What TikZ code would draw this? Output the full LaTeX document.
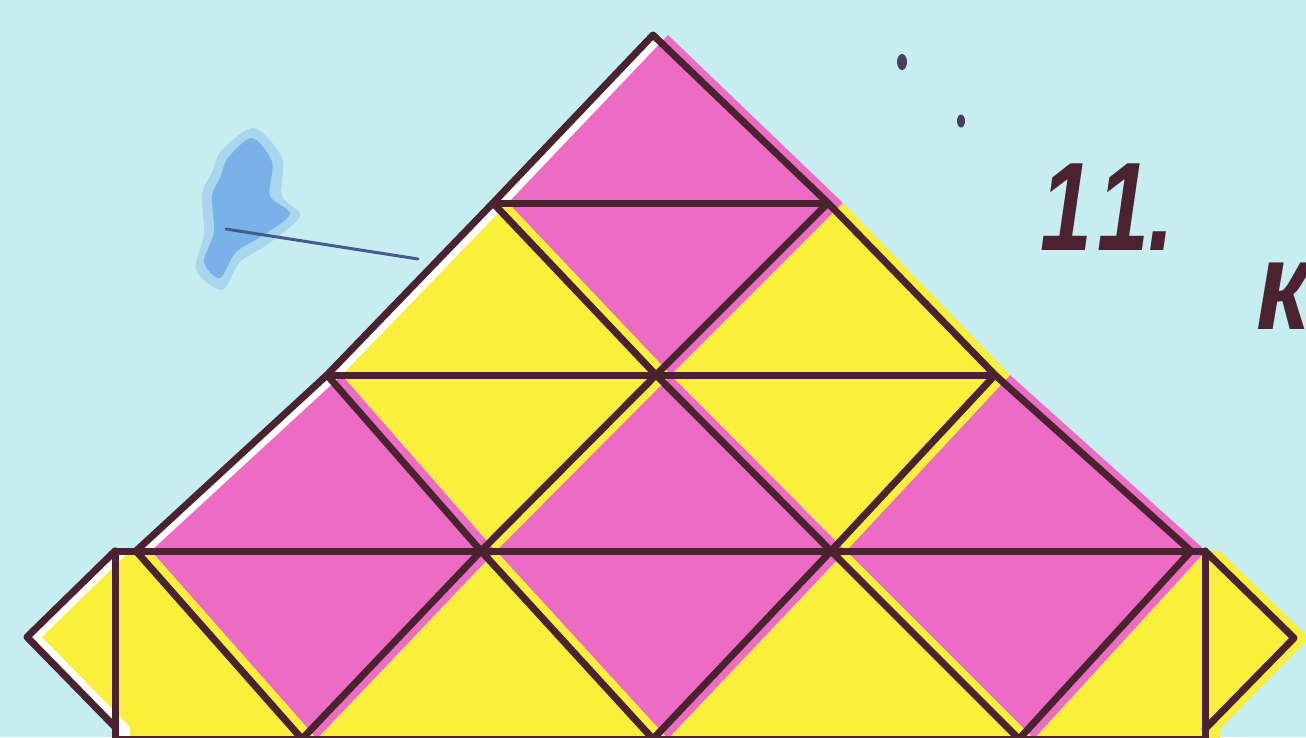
\documentclass[tikz,border=0pt]{standalone}
\usepackage{fontspec}
\newfontfamily\hand{Liberation Sans}
\definecolor{bgc}{RGB}{198,238,240}
\definecolor{pinkc}{RGB}{236,108,196}
\definecolor{yelc}{RGB}{250,240,60}
\definecolor{inkc}{RGB}{74,34,48}
\definecolor{blobc}{RGB}{112,172,232}
\definecolor{penc}{RGB}{70,90,140}
\tikzset{
  edge/.style={draw=inkc, line width=7pt, line cap=round, line join=round},
  label11/.style={text=inkc, font=\hand\bfseries\itshape\fontsize{126}{126}\selectfont, inner sep=0pt, anchor=base west}
}
\begin{document}
\begin{tikzpicture}[x=1pt,y=-1pt]
\useasboundingbox (0,0) rectangle (1306,737);
\clip (0,0) rectangle (1306,737);
\fill[bgc] (0,0) rectangle (1306,737);
% vertices
\coordinate (A) at (653,35);
\coordinate (B1) at (493,203);
\coordinate (B2) at (828,203);
\coordinate (C1) at (327,375);
\coordinate (C2) at (656,375);
\coordinate (C3) at (995,375);
\coordinate (D0) at (115,551);
\coordinate (D1) at (136,551);
\coordinate (D2) at (481,551);
\coordinate (D3) at (831,551);
\coordinate (D4) at (1191,551);
\coordinate (D5) at (1205,551);
\coordinate (E0) at (115,739);
\coordinate (E1) at (302,739);
\coordinate (E2) at (653,739);
\coordinate (E3) at (1019,739);
\coordinate (E4) at (1205,739);
\coordinate (TL) at (27,637);
\coordinate (TLb) at (115,727);
\coordinate (TR) at (1294,638);
\coordinate (TRb) at (1205,729);
% paper (white) under the fills
\fill[white] (A) -- (C3) -- (D4) -- (D5) -- (TR) -- (TRb) -- (E4) -- (E0) -- (TLb) -- (TL) -- (D0) -- (D1) -- (C1) -- cycle;
% fills printed slightly out of register
\begin{scope}[transform canvas={xshift=15pt}]
\fill[pinkc] (A) -- (B1) -- (B2) -- cycle;
\fill[pinkc] (B1) -- (B2) -- (C2) -- cycle;
\fill[pinkc] (C1) -- (D1) -- (D2) -- cycle;
\fill[pinkc] (C2) -- (D2) -- (D3) -- cycle;
\fill[pinkc] (C3) -- (D3) -- (D4) -- cycle;
\fill[pinkc] (D1) -- (D2) -- (E1) -- cycle;
\fill[pinkc] (D2) -- (D3) -- (E2) -- cycle;
\fill[pinkc] (D3) -- (D4) -- (E3) -- cycle;
\fill[yelc] (B1) -- (C1) -- (C2) -- cycle;
\fill[yelc] (B2) -- (C2) -- (C3) -- cycle;
\fill[yelc] (C1) -- (C2) -- (D2) -- cycle;
\fill[yelc] (C2) -- (C3) -- (D3) -- cycle;
\fill[yelc] (D0) -- (D1) -- (E1) -- (E0) -- cycle;
\fill[yelc] (D2) -- (E1) -- (E2) -- cycle;
\fill[yelc] (D3) -- (E2) -- (E3) -- cycle;
\fill[yelc] (D4) -- (D5) -- (E4) -- (E3) -- cycle;
\fill[yelc] (D0) -- (TL) -- (TLb) -- cycle;
\fill[yelc] (D5) -- (TR) -- (TRb) -- cycle;
\end{scope}
% outline and grid
\draw[edge] (D1) -- (C1) -- (B1) -- (A) -- (B2) -- (C3) -- (D4);
\draw[edge] (B1) -- (B2);
\draw[edge] (C1) -- (C3);
\draw[edge] (D0) -- (D5);
\draw[edge] (E0) -- (E4);
\draw[edge] (B1) -- (C2) -- (B2);
\draw[edge] (C1) -- (D2) -- (C2) -- (D3) -- (C3);
\draw[edge] (D1) -- (E1) -- (D2) -- (E2) -- (D3) -- (E3) -- (D4);
\draw[edge] (D0) -- (E0);
\draw[edge] (D5) -- (E4);
\draw[edge] (D0) -- (TL) -- (TLb);
\draw[edge] (D5) -- (TR) -- (TRb);
% blue smudge and pen stroke
\fill[blobc, opacity=0.35] plot[smooth cycle] coordinates {(222,150) (254,128) (282,158) (282,196) (300,216) (268,244) (240,262) (222,290) (196,270) (204,234) (202,194) (212,172)};
\fill[blobc, opacity=0.85] plot[smooth cycle] coordinates {(228,158) (252,138) (272,162) (270,196) (290,214) (262,236) (236,252) (220,278) (204,262) (214,232) (212,196) (220,178)};
\coordinate (P1) at (226,229);
\coordinate (P2) at (418,259);
\draw[penc, line width=3pt, line cap=round] (P1) -- (P2);
% dots
\fill[inkc!50!penc] (902,62) ellipse (5 and 8);
\fill[inkc!50!penc] (961,121) ellipse (4 and 6.5);
% text
\node[label11] (num) at (1040,250) {\scalebox{0.74}[1]{1\kern8pt 1\kern-2pt.}};
\node[label11] (kk) at (1256,329) {\scalebox{0.85}[1]{к}};
\end{tikzpicture}
\end{document}
